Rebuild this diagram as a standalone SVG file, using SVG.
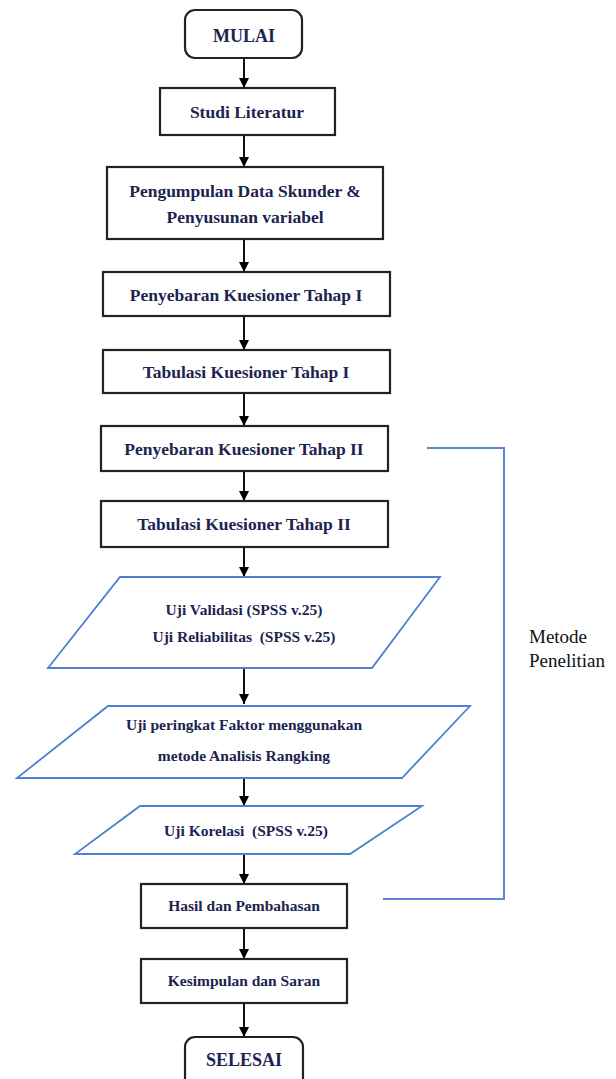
<svg xmlns="http://www.w3.org/2000/svg" width="616" height="1079" viewBox="0 0 616 1079">
<defs>
<marker id="ah" viewBox="0 0 10 10" refX="10" refY="5" markerWidth="10" markerHeight="10" markerUnits="userSpaceOnUse" orient="auto">
<path d="M0,0 L10,5 L0,10 z" fill="#000"/>
</marker>
<style>
.box{fill:#fff;stroke:#222;stroke-width:2.2}
.para{fill:#fff;stroke:#4f7fd0;stroke-width:1.8}
.t{font-family:'Liberation Serif',serif;font-weight:bold;fill:#1c2450;text-anchor:middle;white-space:pre}
.big{font-size:18px}
.m{font-size:17.5px}
.s{font-size:15.5px}
.con line{stroke:#111;stroke-width:2;marker-end:url(#ah)}
.br{fill:none;stroke:#5b83d6;stroke-width:2}
.lab{font-family:'Liberation Serif',serif;font-size:19px;fill:#111}
</style>
</defs>
<rect width="616" height="1079" fill="#fff"/>
<g id="connectors" class="con">
<line x1="244" y1="58" x2="244" y2="88"/>
<line x1="244" y1="135" x2="244" y2="167"/>
<line x1="244" y1="239" x2="244" y2="272"/>
<line x1="244" y1="316" x2="244" y2="350"/>
<line x1="244" y1="393" x2="244" y2="426"/>
<line x1="244" y1="471" x2="244" y2="501"/>
<line x1="244" y1="547" x2="244" y2="577"/>
<line x1="244" y1="668" x2="244" y2="704"/>
<line x1="244" y1="778" x2="244" y2="806"/>
<line x1="244" y1="854" x2="244" y2="884"/>
<line x1="244" y1="928" x2="244" y2="959"/>
<line x1="244" y1="1003" x2="244" y2="1037"/>
</g>
<g id="bracket">
<polyline class="br" points="427,448 504,448 504,899 383,899"/>
<text class="lab" x="529" y="643">Metode</text>
<text class="lab" x="529" y="667">Penelitian</text>
</g>
<g id="mulai">
<rect class="box" x="185" y="10" width="117" height="48" rx="10"/>
<text class="t big" x="244" y="42">MULAI</text>
</g>
<g id="studi">
<rect class="box" x="160" y="88" width="175" height="47"/>
<text class="t m" x="247" y="118">Studi Literatur</text>
</g>
<g id="pengumpulan">
<rect class="box" x="107" y="167" width="276" height="72"/>
<text class="t m" x="245" y="197">Pengumpulan Data Skunder &amp;</text>
<text class="t m" x="245" y="223">Penyusunan variabel</text>
</g>
<g id="penyebaran1">
<rect class="box" x="103" y="272" width="287" height="44"/>
<text class="t m" x="246" y="301">Penyebaran Kuesioner Tahap I</text>
</g>
<g id="tabulasi1">
<rect class="box" x="103" y="350" width="287" height="43"/>
<text class="t m" x="246" y="378">Tabulasi Kuesioner Tahap I</text>
</g>
<g id="penyebaran2">
<rect class="box" x="101" y="426" width="287" height="45"/>
<text class="t m" x="244" y="455">Penyebaran Kuesioner Tahap II</text>
</g>
<g id="tabulasi2">
<rect class="box" x="101" y="501" width="287" height="46"/>
<text class="t m" x="244" y="530">Tabulasi Kuesioner Tahap II</text>
</g>
<g id="uji-validasi">
<polygon class="para" points="120,577 440,577 372,668 48,668"/>
<text class="t s" x="244" y="615">Uji Validasi (SPSS v.25)</text>
<text class="t s" x="244" y="642">Uji Reliabilitas  (SPSS v.25)</text>
</g>
<g id="uji-peringkat">
<polygon class="para" points="108,706 470,706 402,778 17,778"/>
<text class="t s" x="244" y="730">Uji peringkat Faktor menggunakan</text>
<text class="t s" x="244" y="761">metode Analisis Rangking</text>
</g>
<g id="uji-korelasi">
<polygon class="para" points="140,806 422,806 350,854 75,854"/>
<text class="t s" x="246" y="836">Uji Korelasi  (SPSS v.25)</text>
</g>
<g id="hasil">
<rect class="box" x="141" y="884" width="206" height="44"/>
<text class="t s" x="244" y="911">Hasil dan Pembahasan</text>
</g>
<g id="kesimpulan">
<rect class="box" x="141" y="959" width="206" height="44"/>
<text class="t s" x="244" y="986">Kesimpulan dan Saran</text>
</g>
<g id="selesai">
<rect class="box" x="185" y="1037" width="118" height="52" rx="10"/>
<text class="t big" x="244" y="1066">SELESAI</text>
</g>
</svg>
